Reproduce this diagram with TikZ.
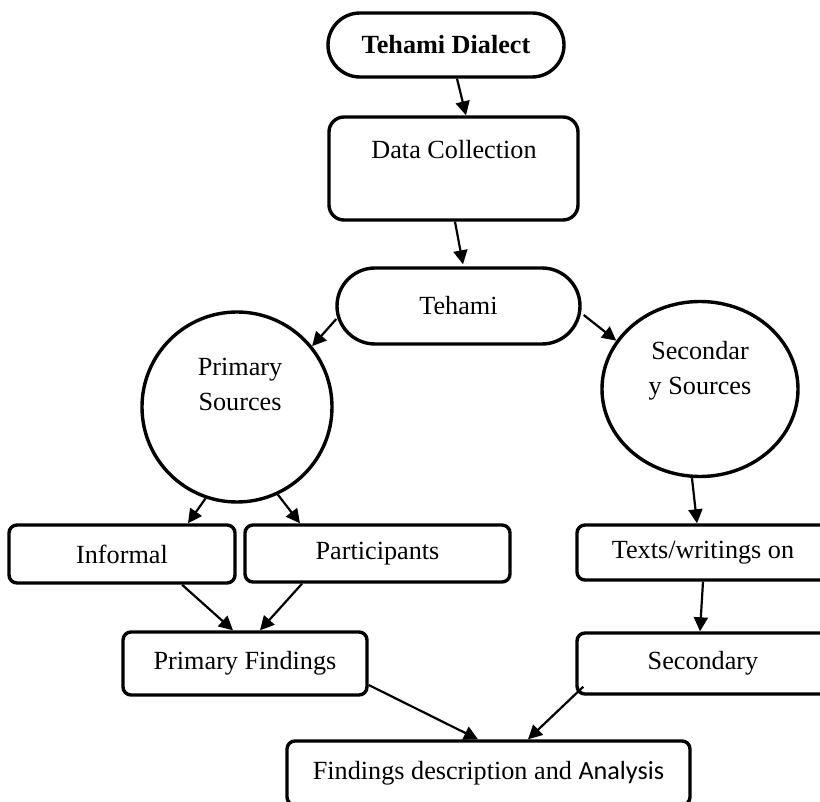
\documentclass[tikz,border=0pt]{standalone}
\usepackage{fontspec}
\setmainfont{Liberation Serif}
\newfontfamily\calibrifont{Carlito}
\usetikzlibrary{shapes.misc,shapes.geometric,arrows.meta}

\begin{document}
\begin{tikzpicture}[x=0.5pt,y=-0.5pt,
  every node/.style={font=\fontsize{13.1}{17.5}\selectfont, inner sep=0pt},
  frame/.style={draw, line width=1.7pt, rectangle, rounded corners=4pt},
  bigframe/.style={draw, line width=1.7pt, rectangle, rounded corners=7.5pt},
  pill/.style={draw, line width=1.7pt, rounded rectangle},
  circ/.style={draw, line width=1.7pt, circle},
  oval/.style={draw, line width=1.7pt, ellipse},
  conn/.style={line width=1.1pt, -{Triangle[length=7pt,width=7pt]}},
]
\useasboundingbox (0,0) rectangle (820,802);
\clip (0,0) rectangle (820,802);

\node[pill, minimum width=118pt, minimum height=32pt, font=\fontsize{13.1}{17.5}\selectfont\bfseries] (td) at (446,45) {Tehami Dialect};
\node[bigframe, minimum width=124.5pt, minimum height=51.5pt] (dc) at (453.5,168.5) {};
\node (dct) at (454,150) {Data Collection};
\node[pill, minimum width=121.5pt, minimum height=38pt] (te) at (458.5,306) {Tehami};
\node[circ, minimum size=95pt] (ps) at (237,407) {};
\node[align=center] (pst) at (240,384) {Primary\\Sources};
\node[oval, minimum width=98pt, minimum height=87.5pt] (ss) at (700,389) {};
\node[align=center] (sst) at (700,371) {Secondar\\y Sources};
\node[frame, minimum width=113pt, minimum height=29pt] (inf) at (122,554) {Informal};
\node[frame, minimum width=132.5pt, minimum height=28.5pt] (par) at (377.5,553.5) {Participants};
\node[frame, minimum width=126pt, minimum height=27.5pt] (txt) at (703,552.5) {Texts/writings on};
\node[frame, minimum width=122pt, minimum height=31.5pt] (pf) at (245,663.5) {Primary Findings};
\node[frame, minimum width=126pt, minimum height=30.5pt] (sec) at (703,663.5) {Secondary};
\node[frame, minimum width=201.5pt, minimum height=32pt] (fd) at (488.5,773) {Findings description and {\calibrifont Analysis}};

\draw[conn] ([xshift=5.5pt]td.south) -- ([xshift=6.25pt]dc.north);
\draw[conn] ([xshift=0.75pt]dc.south) -- ([shift={(4.5,-2)}]te.north);
\draw[conn] ([shift={(1,13)}]te.west) -- (ps.39);
\draw[conn] ([shift={(2,9)}]te.east) -- (ss.150);
\draw[conn] (ps.-109) -- ([xshift=33pt]inf.north);
\draw[conn] (ps.-65) -- ([xshift=-38.75pt]par.north);
\draw[conn] ([xshift=30pt]inf.south) -- ([xshift=-6pt]pf.north);
\draw[conn] ([xshift=-37.75pt]par.south) -- ([xshift=7.5pt]pf.north);
\draw[conn] ([xshift=-4pt]ss.south) -- ([xshift=-3pt]txt.north);
\draw[conn] (txt.south) -- ([xshift=-1.5pt]sec.north);
\draw[conn] ([shift={(0,21.5)}]pf.east) -- ([xshift=-5.25pt]fd.north);
\draw[conn] ([shift={(8,-9)}]sec.south west) -- ([xshift=19.75pt]fd.north);
\end{tikzpicture}
\end{document}
